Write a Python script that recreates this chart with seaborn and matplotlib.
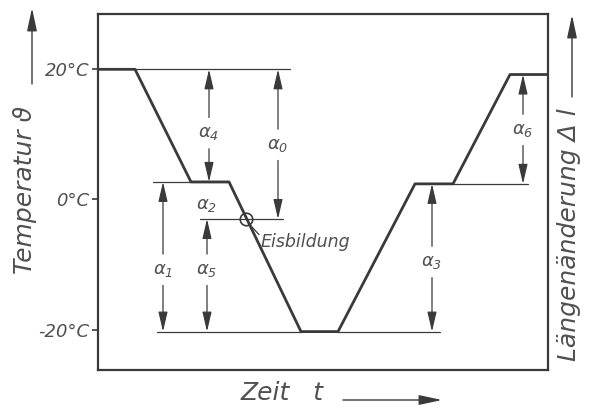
import numpy as np
import pandas as pd
import matplotlib
matplotlib.use("Agg")
import matplotlib.pyplot as plt
import seaborn as sns

# temperature course over time (time in arbitrary units, temperature in degC)
curve_time = [0, 37, 93, 131, 203, 240, 317, 355, 412, 450]
curve_temp = [20, 20, 2.7, 2.7, -20.3, -20.3, 2.4, 2.4, 19.2, 19.2]

# ice formation point
eis_time = 148
eis_temp = -3.0

# horizontal reference lines: (start, end, level)
ref_start = [37, 55, 102, 59, 240, 355]
ref_end = [192, 131, 185, 203, 342, 430]
ref_level = [20, 2.7, -3.0, -20.3, -20.3, 2.4]

# dimension arrows: label, x position, lower end, upper end, label height
dim_labels = [r"$\alpha_4$", r"$\alpha_0$", r"$\alpha_1$", r"$\alpha_5$", r"$\alpha_3$", r"$\alpha_6$"]
dim_time = [111, 180, 65, 109, 334, 425]
dim_low = [2.7, -3.0, -20.3, -20.3, -20.3, 2.4]
dim_high = [20, 20, 2.7, -3.0, 2.4, 19.2]
dim_label_y = [10.2, 8.4, -10.8, -10.8, -9.6, 10.7]

ytick_vals = [20, 0, -20]
ytick_labels = ["20°C", "0°C", "-20°C"]

sns.set_style("white")
plt.rcParams["font.family"] = ["DejaVu Sans"]
plt.rcParams["font.style"] = "italic"
plt.rcParams["mathtext.fontset"] = "dejavusans"

ink = "#3a3a3a"
txt = "#505050"

fig = plt.figure(figsize=(5.89, 4.09), dpi=100)
W, H = 589, 409
ax = fig.add_axes([98 / W, (H - 370) / H, 450 / W, 356 / H])

df = pd.DataFrame({"Zeit": curve_time, "Temperatur": curve_temp})
sns.lineplot(data=df, x="Zeit", y="Temperatur", sort=False, estimator=None,
             color=ink, lw=2.0, ax=ax)

for s, e, lv in zip(ref_start, ref_end, ref_level):
    ax.plot([s, e], [lv, lv], color=ink, lw=0.9)

# Eisbildung marker with leader line
ax.plot([eis_time], [eis_temp], marker="o", ms=9, mfc="none", mec=ink, mew=1.2)
ax.plot([eis_time + 4, eis_time + 13], [eis_temp - 0.9, eis_temp - 2.4], color=ink, lw=0.9)
ax.text(eis_time + 15, eis_temp - 3.5, "Eisbildung", color=txt, fontsize=12.5,
        ha="left", va="center")

arr = dict(arrowstyle="-|>,head_length=1.2,head_width=0.28", color=ink, lw=0.9,
           shrinkA=0, shrinkB=0)
gap = 2.4
for lab, t, lo, hi, ly in zip(dim_labels, dim_time, dim_low, dim_high, dim_label_y):
    ax.annotate("", xy=(t, hi), xytext=(t, ly + gap), arrowprops=arr)
    ax.annotate("", xy=(t, lo), xytext=(t, ly - gap), arrowprops=arr)
    ax.text(t, ly, lab, color=txt, fontsize=13, ha="center", va="center")

# alpha_2 sits between the two arrow tips
ax.text(109, -0.8, r"$\alpha_2$", color=txt, fontsize=13, ha="center", va="center")

ax.set_xlim(0, 450)
ax.set_ylim(-26.2, 28.5)
ax.set_xticks([])
ax.set_yticks(ytick_vals)
ax.set_yticklabels(ytick_labels, fontsize=13, color=txt)
ax.tick_params(axis="y", direction="out", length=4, width=1.2, color=ink, pad=2, left=True)
ax.set_xlabel("")
ax.set_ylabel("")
for sp in ax.spines.values():
    sp.set_visible(True)
    sp.set_color(ink)
    sp.set_linewidth(1.6)

# outer axis titles with arrows
big_arr = dict(arrowstyle="-|>,head_length=1.4,head_width=0.3", color=ink, lw=1.0,
               shrinkA=0, shrinkB=0)
fig.text(25 / W, 1 - 190 / H, "Temperatur ϑ", rotation=90, fontsize=18, color=txt,
         ha="center", va="center")
ax.annotate("", xy=(32, H - 8), xytext=(32, H - 84), xycoords="figure pixels",
            textcoords="figure pixels", arrowprops=big_arr)

fig.text(569 / W, 1 - 235 / H, "Längenänderung Δ l", rotation=90, fontsize=18,
         color=txt, ha="center", va="center")
ax.annotate("", xy=(572, H - 15), xytext=(572, H - 97), xycoords="figure pixels",
            textcoords="figure pixels", arrowprops=big_arr)

fig.text(282 / W, 1 - 393 / H, "Zeit   t", fontsize=18, color=txt, ha="center", va="center")
ax.annotate("", xy=(442, H - 400), xytext=(343, H - 400), xycoords="figure pixels",
            textcoords="figure pixels", arrowprops=big_arr)

fig.savefig("out.png", dpi=100, facecolor="white")
